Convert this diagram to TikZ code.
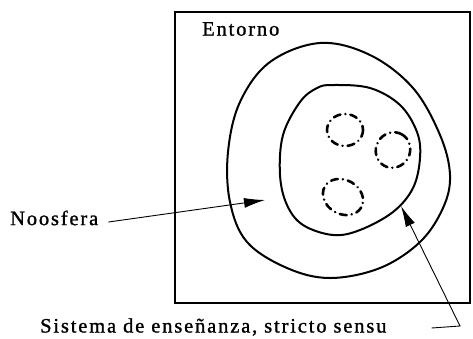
\documentclass[tikz,border=0pt]{standalone}
\usepackage{fontspec}
\setmainfont{Liberation Serif}[LetterSpace=9,FakeBold=1.2]
\usetikzlibrary{arrows.meta}
\begin{document}
\begin{tikzpicture}[x=1pt,y=-1pt,
    lbl/.style={inner sep=0pt,font=\fontsize{20.5}{24}\selectfont},
    blob/.style={line width=2pt,line join=round},
    cell/.style={line width=2.6pt,dash pattern=on 7pt off 5pt on 0.1pt off 5pt,line cap=round},
    pointer/.style={line width=0.9pt,-{Latex[length=21pt,width=10pt]}}]
  \useasboundingbox (0,0) rectangle (473,338);
  % entorno
  \draw [line width=2.2pt] (175,12) rectangle (470,303);
  \node [lbl,anchor=west] (entorno) at (202,29) {Entorno};
  % noosfera
  \draw [blob] plot [smooth cycle,tension=0.6] coordinates
    {(320,43) (370,55) (413,88) (440,135) (450,175) (443,208) (420,242)
     (380,268) (330,278) (287,268) (247,242) (230,202) (228,152) (240,102)
     (270,62)};
  % sistema de ensenanza
  \draw [blob] plot [smooth cycle,tension=0.6] coordinates
    {(333,85) (370,88) (400,105) (417,132) (420,158) (413,188) (393,212)
     (360,230) (333,235) (303,225) (287,205) (280,175) (283,135) (300,102)
     (317,88)};
  \draw [cell] (345,130) ellipse (18 and 16);
  \draw [cell,rotate around={60:(393,150)}] (393,150) ellipse (18 and 17);
  \draw [cell,rotate around={-30:(343,197)}] (343,197) ellipse (21 and 17);
  % labels
  \node [lbl,anchor=west] (noos) at (10,218) {Noosfera};
  \node [lbl,anchor=west] (sist) at (40,327) {Sistema de enseñanza, stricto sensu};
  \coordinate (noosfoot) at ([xshift=10pt,yshift=-4pt]noos.east);
  \coordinate (noostip) at (265,200);
  \coordinate (sistfoot) at ([xshift=45pt,yshift=-1pt]sist.east);
  \coordinate (bend) at (460,326);
  \coordinate (sisttip) at (401,206);
  \draw [pointer] (noosfoot) -- (noostip);
  \draw [pointer] (sistfoot) -- (bend) -- (sisttip);
\end{tikzpicture}
\end{document}
